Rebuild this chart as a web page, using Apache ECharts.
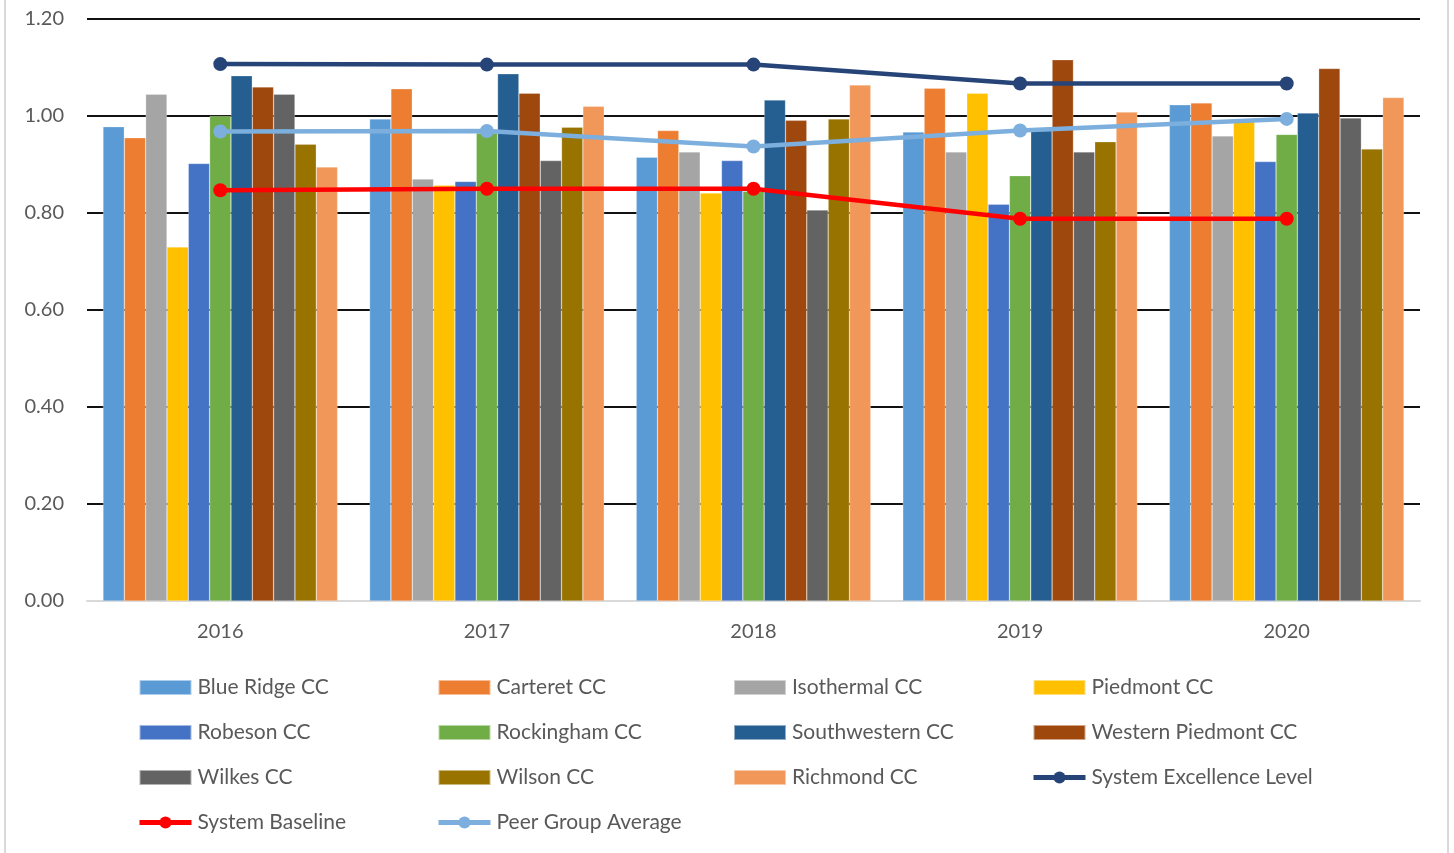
<!DOCTYPE html>
<html>
<head>
<meta charset="utf-8">
<script src="https://cdn.jsdelivr.net/npm/echarts@6/dist/echarts.min.js"></script>
<style>
  html, body { margin: 0; padding: 0; background: #fff; }
  #frame { position: absolute; left: 4px; top: 0; width: 1445px; height: 853px; border-left: 2px solid #d9d9d9; border-right: 2px solid #d9d9d9; box-sizing: border-box; }
  #chart { position: absolute; left: 0; top: 0; width: 1454px; height: 853px; }
</style>
</head>
<body>
<div id="frame"></div>
<div id="chart"></div>
<script>
const years = ['2016', '2017', '2018', '2019', '2020'];
const yTicks = [0, 0.2, 0.4, 0.6, 0.8, 1.0, 1.2];

const blueRidge      = [0.978, 0.994, 0.915, 0.967, 1.023];
const carteret       = [0.955, 1.056, 0.970, 1.057, 1.027];
const isothermal     = [1.045, 0.870, 0.926, 0.926, 0.959];
const piedmont       = [0.730, 0.857, 0.841, 1.047, 0.990];
const robeson        = [0.902, 0.865, 0.908, 0.818, 0.906];
const rockingham     = [1.000, 0.965, 0.845, 0.877, 0.962];
const southwestern   = [1.083, 1.087, 1.033, 0.970, 1.006];
const westernPiedmont= [1.060, 1.047, 0.991, 1.116, 1.098];
const wilkes         = [1.045, 0.908, 0.806, 0.926, 0.996];
const wilson         = [0.942, 0.977, 0.994, 0.947, 0.932];
const richmond       = [0.895, 1.020, 1.064, 1.008, 1.038];

const excellence     = [1.107, 1.106, 1.106, 1.067, 1.067];
const baseline       = [0.847, 0.850, 0.850, 0.788, 0.788];
const peerAvg        = [0.968, 0.969, 0.937, 0.970, 0.994];

const barNames = ['Blue Ridge CC','Carteret CC','Isothermal CC','Piedmont CC','Robeson CC','Rockingham CC','Southwestern CC','Western Piedmont CC','Wilkes CC','Wilson CC','Richmond CC'];
const barData = [blueRidge, carteret, isothermal, piedmont, robeson, rockingham, southwestern, westernPiedmont, wilkes, wilson, richmond];
const barColors = ['#5b9bd5','#ed7d31','#a5a5a5','#ffc000','#4472c4','#70ad47','#255e91','#9e480e','#636363','#997300','#f1975a'];

const lineNames = ['System Excellence Level','System Baseline','Peer Group Average'];
const lineData = [excellence, baseline, peerAvg];
const lineColors = ['#264478','#ff0000','#7cafdd'];

const FONT = 'Lato';
const series = [];
barNames.forEach((n, i) => {
  series.push({
    name: n, type: 'bar', data: barData[i],
    barGap: '0%', barCategoryGap: '12%',
    itemStyle: { color: barColors[i], borderColor: 'rgba(255,255,255,0.5)', borderWidth: 0.5 },
    emphasis: { disabled: true }, z: 2
  });
});
lineNames.forEach((n, i) => {
  series.push({
    name: n, type: 'line', data: lineData[i],
    symbol: 'circle', symbolSize: 14,
    lineStyle: { color: lineColors[i], width: 4.5 },
    itemStyle: { color: lineColors[i] },
    emphasis: { disabled: true }, z: 5
  });
});

const legendCols = [
  ['Blue Ridge CC','Robeson CC','Wilkes CC','System Baseline'],
  ['Carteret CC','Rockingham CC','Wilson CC','Peer Group Average'],
  ['Isothermal CC','Southwestern CC','Richmond CC'],
  ['Piedmont CC','Western Piedmont CC','System Excellence Level']
];
const colX = [137, 436, 733, 1031];
const legends = legendCols.map((names, i) => ({
  orient: 'vertical', left: colX[i], top: 677, itemGap: 24, padding: 0,
  itemWidth: 52, itemHeight: 15,
  data: names.map(n => {
    const li = lineNames.indexOf(n);
    if (li >= 0) return { name: n, lineStyle: { width: 5, color: lineColors[li] }, itemStyle: { color: lineColors[li] } };
    return { name: n, icon: 'rect' };
  }),
  textStyle: { color: '#595959', fontSize: 21, fontFamily: FONT, padding: [0, 0, 0, 1] },
  selectedMode: false
}));

const chart = echarts.init(document.getElementById('chart'), null, { renderer: 'canvas' });
chart.setOption({
  animation: false,
  backgroundColor: 'transparent',
  textStyle: { fontFamily: FONT },
  grid: { left: 87, right: 34, top: 19, bottom: 252, containLabel: false },
  legend: legends,
  xAxis: {
    type: 'category', data: years,
    axisLine: { show: true, lineStyle: { color: '#d9d9d9', width: 2 } },
    axisTick: { show: false },
    axisLabel: { color: '#595959', fontSize: 20, fontFamily: FONT, margin: 21 }
  },
  yAxis: {
    type: 'value', min: yTicks[0], max: yTicks[yTicks.length - 1], interval: 0.2,
    axisLine: { show: false }, axisTick: { show: false },
    axisLabel: { color: '#595959', fontSize: 20, fontFamily: FONT, margin: 23, formatter: v => v.toFixed(2) },
    splitLine: { show: true, lineStyle: { color: ['#d9d9d9','#111','#111','#111','#111','#111','#111'], width: 2 } }
  },
  series: series
});
</script>
</body>
</html>
